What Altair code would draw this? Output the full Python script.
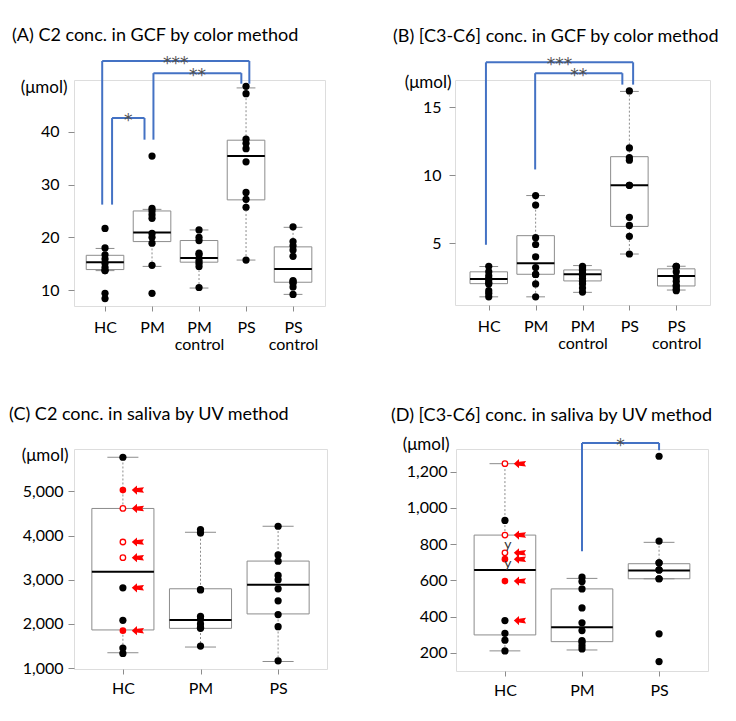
import altair as alt
import pandas as pd

FONT = "Lato"
GRAY = "#8c8c8c"
BLUE = "#4472C4"
RED = "#ff0000"

# ---------------- Panel A : C2 in GCF ----------------
A_groups = ["HC", "PM", "PM control", "PS", "PS control"]
A_q1 = [13.9, 19.2, 15.3, 27.1, 11.5]
A_med = [15.3, 20.9, 16.1, 35.4, 14.0]
A_q3 = [16.6, 25.0, 19.4, 38.4, 18.2]
A_wlo = [13.7, 14.5, 10.4, 15.7, 9.2]
A_whi = [17.9, 25.3, 21.4, 48.3, 21.9]
A_pts = [
    [21.7, 18.0, 16.7, 15.9, 15.1, 14.3, 13.7, 13.7, 9.4, 8.4],
    [35.4, 25.5, 25.0, 24.3, 23.6, 20.75, 20.0, 18.9, 14.7, 9.4],
    [21.4, 20.0, 19.4, 17.0, 16.7, 15.6, 15.1, 14.5, 10.5],
    [48.6, 47.2, 38.6, 37.8, 36.8, 34.3, 28.5, 27.2, 25.7, 15.7],
    [22.0, 19.2, 18.4, 17.6, 16.4, 11.8, 11.6, 11.3, 10.6, 9.2],
]
A_brackets = [(0, 3, "***"), (1, 3, "**"), (0, 1, "*")]
A_br_top = [53.4, 51.1, 42.6]
A_br_left = [26.2, 38.5, 26.2]
A_br_right = [49.1, 49.1, 38.5]
A_br_dx = [(-0.06, 0.07), (0.03, -0.1), (0.15, -0.16)]

# ---------------- Panel B : C3-C6 in GCF ----------------
B_groups = ["HC", "PM", "PM control", "PS", "PS control"]
B_q1 = [2.02, 2.71, 2.22, 6.23, 1.85]
B_med = [2.37, 3.52, 2.71, 9.26, 2.59]
B_q3 = [2.89, 5.55, 3.03, 11.36, 3.11]
B_wlo = [1.05, 1.05, 1.38, 4.2, 1.55]
B_whi = [3.28, 8.5, 3.35, 16.16, 3.3]
B_pts = [
    [3.3, 2.9, 2.6, 2.4, 2.3, 2.1, 2.0, 1.5, 1.3, 1.05],
    [8.5, 7.8, 5.4, 4.9, 4.0, 3.2, 2.7, 2.7, 2.0, 1.05],
    [3.3, 3.2, 3.1, 3.0, 2.8, 2.6, 2.4, 2.2, 2.0, 1.7, 1.4],
    [16.2, 12.0, 11.3, 11.1, 9.25, 9.25, 6.9, 6.3, 5.5, 4.2],
    [3.3, 3.3, 3.25, 2.9, 2.5, 2.2, 1.9, 1.8, 1.6, 1.5],
]
B_brackets = [(0, 3, "***"), (1, 3, "**")]
B_br_top = [18.3, 17.5]
B_br_left = [4.88, 10.42]
B_br_right = [16.66, 16.66]
B_br_dx = [(-0.06, 0.08), (-0.01, -0.15)]

# ---------------- Panel C : C2 in saliva ----------------
C_groups = ["HC", "PM", "PS"]
C_q1 = [1864, 1900, 2227]
C_med = [3182, 2091, 2886]
C_q3 = [4614, 2796, 3423]
C_wlo = [1348, 1477, 1150]
C_whi = [5773, 4075, 4211]
C_pts = [
    [5773, 2818, 2082, 1455, 1333],
    [4136, 4060, 2780, 2770, 2170, 2100, 2000, 1920, 1900, 1500],
    [4211, 3561, 3420, 3098, 3000, 2795, 2523, 2211, 1939, 1166],
]
C_hc_red = [5030, 1848]
C_hc_open = [4614, 3855, 3500]
C_hc_arrows = [5030, 4614, 3855, 3500, 2818, 1848]

# ---------------- Panel D : C3-C6 in saliva ----------------
D_groups = ["HC", "PM", "PS"]
D_q1 = [299, 262, 609]
D_med = [657, 342, 655]
D_q3 = [850, 553, 692]
D_wlo = [211, 216, 609]
D_whi = [1244, 611, 810]
D_pts = [
    [931, 378, 308, 270, 211],
    [618, 594, 553, 448, 366, 323, 268, 259, 240, 222],
    [1285, 817, 697, 697, 658, 658, 609, 609, 305, 152],
]
D_hc_red = [717, 596]
D_hc_open = [1244, 850, 752]
D_hc_arrows = [1244, 850, 752, 717, 596, 378]
D_hc_marks = [793, 692]
D_brackets = [(1, 2, "*")]
D_br_top = [1358]
D_br_left = [761]
D_br_right = [1318]
D_br_dx = [(0.0, 0.0)]

ARROW = "M -1 0 L -0.15 -0.75 L -0.15 -0.32 L 1 -0.45 L 0.72 0 L 1 0.45 L -0.15 0.32 L -0.15 0.75 Z"


def panel(title, groups, q1, med, q3, wlo, whi, pts, ydom, yticks, yfmt, xdom, w, h,
          umol_x, umol_y, ylab_pad, xlab_pad, title_dx, title_off,
          brackets=None, br_top=None, br_left=None, br_right=None, br_dx=None,
          red=None, opn=None, arrows=None, marks=None):
    xs = alt.Scale(domain=xdom, nice=False, zero=False)
    ys = alt.Scale(domain=ydom, nice=False, zero=False)
    names = "[" + ",".join("'" + g + "'" for g in groups) + "]"
    xaxis = alt.Axis(values=list(range(len(groups))),
                     labelExpr="split(" + names + "[datum.value], ' ')",
                     grid=False, domain=False, ticks=True, tickSize=5, tickColor=GRAY,
                     labelFont=FONT, labelFontSize=16, labelColor="black",
                     labelPadding=xlab_pad, labelLineHeight=17, labelFlush=False,
                     labelOverlap=False, labelBaseline="top", title=None)
    yaxis = alt.Axis(values=yticks, format=yfmt, grid=False, domain=False,
                     tickSize=6, tickColor=GRAY, labelFont=FONT, labelFontSize=16,
                     labelColor="black", labelPadding=ylab_pad, labelFlush=False,
                     labelOverlap=False,
                     title="(\u03bcmol)", titleAngle=0, titleAlign="right",
                     titleBaseline="middle", titleX=umol_x, titleY=umol_y,
                     titleFont=FONT, titleFontSize=17, titleFontWeight="normal",
                     titleColor="black")

    def X(f):
        return alt.X(f, type="quantitative", scale=xs, axis=xaxis)

    def Y(f):
        return alt.Y(f, type="quantitative", scale=ys, axis=yaxis)

    box = pd.DataFrame({"i": list(range(len(groups))), "q1": q1, "med": med,
                        "q3": q3, "wlo": wlo, "whi": whi})
    base = alt.Chart(box).transform_calculate(
        xl="datum.i - 0.4", xr="datum.i + 0.4",
        cl="datum.i - 0.2", cr="datum.i + 0.2")

    layers = [
        base.mark_rect(fill="white", stroke=GRAY, strokeWidth=1).encode(
            x=X("xl"), x2="xr", y=Y("q1"), y2="q3"),
        base.mark_rule(color=GRAY, strokeDash=[2, 2], strokeWidth=1).encode(
            x=X("i"), y=Y("q3"), y2="whi"),
        base.mark_rule(color=GRAY, strokeDash=[2, 2], strokeWidth=1).encode(
            x=X("i"), y=Y("wlo"), y2="q1"),
        base.mark_rule(color=GRAY, strokeWidth=1).encode(
            x=X("cl"), x2="cr", y=Y("whi")),
        base.mark_rule(color=GRAY, strokeWidth=1).encode(
            x=X("cl"), x2="cr", y=Y("wlo")),
        base.mark_rule(color="black", strokeWidth=2).encode(
            x=X("xl"), x2="xr", y=Y("med")),
    ]

    pdf = pd.DataFrame([{"i": i, "v": v} for i, vals in enumerate(pts) for v in vals])
    layers.append(alt.Chart(pdf).mark_circle(size=52, color="black", opacity=1).encode(
        x=X("i"), y=Y("v")))

    if red:
        rdf = pd.DataFrame({"i": [0] * len(red), "v": red})
        layers.append(alt.Chart(rdf).mark_circle(size=44, color=RED, opacity=1).encode(
            x=X("i"), y=Y("v")))
    if opn:
        odf = pd.DataFrame({"i": [0] * len(opn), "v": opn})
        layers.append(alt.Chart(odf).mark_point(shape="circle", size=30, fill="white",
                                                stroke=RED, strokeWidth=1.3,
                                                opacity=1).encode(x=X("i"), y=Y("v")))
    if arrows:
        adf = pd.DataFrame({"i": [0] * len(arrows), "v": arrows})
        layers.append(alt.Chart(adf).mark_point(shape=ARROW, size=150, filled=True,
                                                fill=RED, strokeWidth=0, opacity=1,
                                                xOffset=15).encode(x=X("i"), y=Y("v")))
    if marks:
        mdf = pd.DataFrame({"i": [0] * len(marks), "v": marks, "t": ["y"] * len(marks)})
        layers.append(alt.Chart(mdf).mark_text(font=FONT, fontSize=14, color="#333333",
                                               xOffset=3).encode(
            x=X("i"), y=Y("v"), text="t:N"))

    if brackets:
        rows = []
        for (ga, gb, lab), top, yl, yr, (da, db) in zip(brackets, br_top, br_left,
                                                         br_right, br_dx):
            rows.append({"xa": ga + da, "xb": gb + db, "xm": (ga + da + gb + db) / 2,
                         "top": top, "yl": yl, "yr": yr, "lab": lab})
        bdf = pd.DataFrame(rows)
        bb = alt.Chart(bdf)
        layers += [
            bb.mark_rule(color=BLUE, strokeWidth=2).encode(x=X("xa"), x2="xb", y=Y("top")),
            bb.mark_rule(color=BLUE, strokeWidth=2).encode(x=X("xa"), y=Y("yl"), y2="top"),
            bb.mark_rule(color=BLUE, strokeWidth=2).encode(x=X("xb"), y=Y("yr"), y2="top"),
            bb.mark_text(font="DejaVu Sans", fontSize=17, color="#505050",
                         baseline="alphabetic", dy=8).encode(
                x=X("xm"), y=Y("top"), text="lab:N"),
        ]

    return alt.layer(*layers).properties(
        width=w, height=h,
        title=alt.TitleParams(title, anchor="start", frame="group", dx=title_dx,
                              font=FONT, fontSize=18, fontWeight="normal",
                              color="black", offset=title_off))


pA = panel("(A) C2 conc. in GCF by color method", A_groups, A_q1, A_med, A_q3, A_wlo,
           A_whi, A_pts, [7, 49.8], [10, 20, 30, 40], "d", [-0.66, 4.68], 251, 226,
           -7, 7, 9, 8, -62, 10,
           A_brackets, A_br_top, A_br_left, A_br_right, A_br_dx)
pB = panel("(B) [C3-C6] conc. in GCF by color method", B_groups, B_q1, B_med, B_q3,
           B_wlo, B_whi, B_pts, [0.45, 17.0], [5, 10, 15], "d", [-0.72, 4.72], 255, 225,
           -4, 2, 8, 8, -62, 10,
           B_brackets, B_br_top, B_br_left, B_br_right, B_br_dx)
pC = panel("(C) C2 conc. in saliva by UV method", C_groups, C_q1, C_med, C_q3, C_wlo,
           C_whi, C_pts, [980, 5960], [1000, 2000, 3000, 4000, 5000], ",d",
           [-0.63, 2.63], 253, 220, -6, 6, 5, 6, -65, 22,
           red=C_hc_red, opn=C_hc_open, arrows=C_hc_arrows)
pD = panel("(D) [C3-C6] conc. in saliva by UV method", D_groups, D_q1, D_med, D_q3,
           D_wlo, D_whi, D_pts, [100, 1325], [200, 400, 600, 800, 1000, 1200], ",d",
           [-0.635, 2.635], 252, 222, -7, -5, 3, 6, -65, 10,
           D_brackets, D_br_top, D_br_left, D_br_right, D_br_dx,
           red=D_hc_red, opn=D_hc_open, arrows=D_hc_arrows, marks=D_hc_marks)

chart = alt.vconcat(
    alt.hconcat(pA, pB, spacing=66),
    alt.hconcat(pC, pD, spacing=62),
    spacing=52,
).properties(
    padding={"left": 0, "top": 18, "right": 0, "bottom": 0}
).configure_view(stroke="#9a9a9a", strokeWidth=1).configure(font=FONT)

chart.save("out.html", embed_options={"renderer": "svg", "actions": False})
